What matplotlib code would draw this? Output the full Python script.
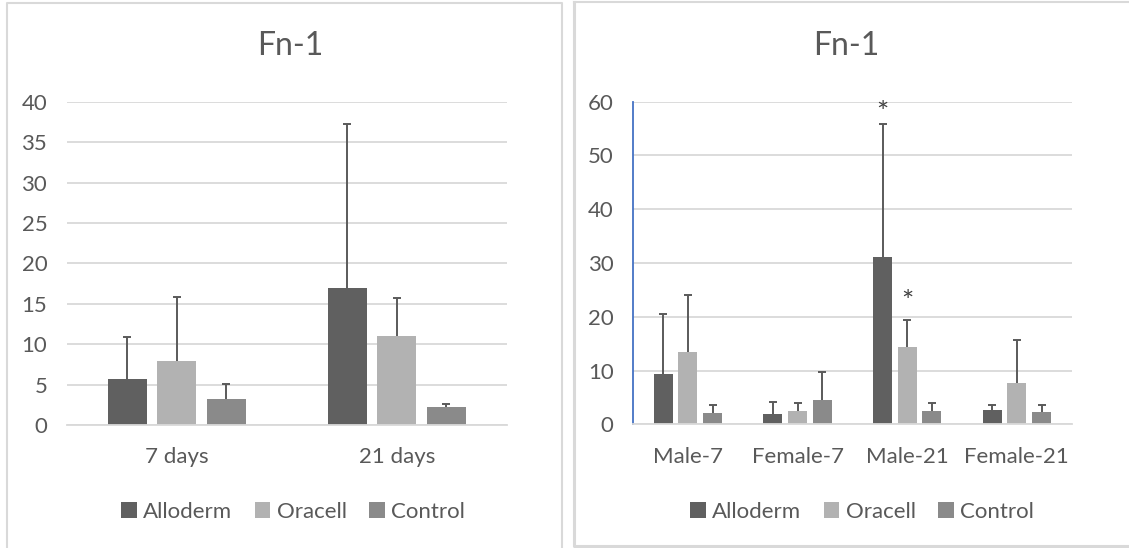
import matplotlib
matplotlib.use("Agg")
import numpy as np
from matplotlib import pyplot as plt
from matplotlib.lines import Line2D

plt.rcParams['font.family'] = ['Lato', 'DejaVu Sans']

# data
series = ["Alloderm", "Oracell", "Control"]
colors = ["#606060", "#b2b2b2", "#8a8a8a"]

days = ["7 days", "21 days"]
days_mean = [[5.65, 17.0], [7.95, 11.05], [3.25, 2.25]]
days_err = [[5.25, 20.3], [7.9, 4.7], [1.85, 0.3]]

groups = ["Male-7", "Female-7", "Male-21", "Female-21"]
grp_mean = [[9.3, 2.0, 31.2, 2.65], [13.45, 2.5, 14.4, 7.7], [2.1, 4.5, 2.5, 2.2]]
grp_err = [[11.2, 2.1, 24.7, 0.95], [10.6, 1.4, 5.0, 8.0], [1.5, 5.3, 1.4, 1.4]]

# significance marks: (series index, group index, offset in pt)
stars = [(0, 2, 7), (1, 2, 12)]

W, H = 1129, 548
TXT = "#595959"
GRID = "#d9d9d9"
FS = 16

fig = plt.figure(figsize=(W / 100, H / 100), dpi=100)


def px_axes(x0, y0, x1, y1):
    return fig.add_axes([x0 / W, 1 - y1 / H, (x1 - x0) / W, (y1 - y0) / H])


def draw(ax, cats, means, errs, ymax, step, bar_w):
    x = np.arange(len(cats))
    for i, (m, e) in enumerate(zip(means, errs)):
        pos = x + (i - 1) * step
        ax.bar(pos, m, width=bar_w, color=colors[i], label=series[i], zorder=2)
        _, caps, _ = ax.errorbar(pos, m, yerr=[np.zeros(len(m)), e],
                                 fmt="none", ecolor="#5a5a5a", elinewidth=1.4,
                                 capsize=2.8, capthick=1.4, zorder=3)
        caps[0].set_visible(False)  # only the upper cap
    ax.set_xlim(-0.5, len(cats) - 0.5)
    ax.set_ylim(0, ymax)
    ax.set_xticks(x)
    ax.set_xticklabels(cats)
    ax.yaxis.grid(True, color=GRID, lw=1.3, zorder=0)
    ax.set_axisbelow(True)
    for s in ["top", "right", "left"]:
        ax.spines[s].set_visible(False)
    ax.spines["bottom"].set_color(GRID)
    ax.spines["bottom"].set_linewidth(1.3)
    ax.tick_params(length=0, labelsize=FS, colors=TXT)
    ax.tick_params(axis="y", pad=14)
    ax.tick_params(axis="x", pad=16)
    return x


ax1 = px_axes(66.7, 101.7, 506.7, 425)
draw(ax1, days, days_mean, days_err, 40, 0.225, 0.177)
ax1.set_yticks(range(0, 41, 5))

ax2 = px_axes(633, 101.7, 1071.7, 424.3)
x2 = draw(ax2, groups, grp_mean, grp_err, 60, 0.225, 0.173)
ax2.set_yticks(range(0, 61, 10))
ax2.spines["left"].set_visible(True)
ax2.spines["left"].set_color("#4472c4")
ax2.spines["left"].set_linewidth(1.3)

for si, gi, off in stars:
    top = grp_mean[si][gi] + grp_err[si][gi]
    ax2.annotate("*", (x2[gi] + (si - 1) * 0.225, top), xytext=(0, off),
                 textcoords="offset points", ha="center", va="center",
                 fontsize=21, color="#404040")

for ax, cx in [(ax1, 293), (ax2, 862)]:
    ax.legend(loc="center", bbox_to_anchor=(cx / W, 1 - 512 / H),
              bbox_transform=fig.transFigure, ncol=3, frameon=False,
              fontsize=FS, labelcolor=TXT, handlelength=0.7,
              handleheight=0.7, handletextpad=0.3, columnspacing=1.0)

fig.text(290 / W, 1 - 46 / H, "Fn-1", ha="center", va="center",
         fontsize=23, color=TXT)
fig.text(846 / W, 1 - 46 / H, "Fn-1", ha="center", va="center",
         fontsize=23, color=TXT)


# chart frames
def frame(xs, ys, lw):
    fig.add_artist(Line2D(np.array(xs) / W, 1 - np.array(ys) / H,
                          color=GRID, lw=lw, transform=fig.transFigure))


frame([7, 7, 562, 562], [548, 3, 3, 548], 1.5)
frame([574, 574, 1129], [2, 546, 546], 2.2)
frame([574, 1129], [2, 2], 1.5)

fig.savefig("out.png", dpi=100)
